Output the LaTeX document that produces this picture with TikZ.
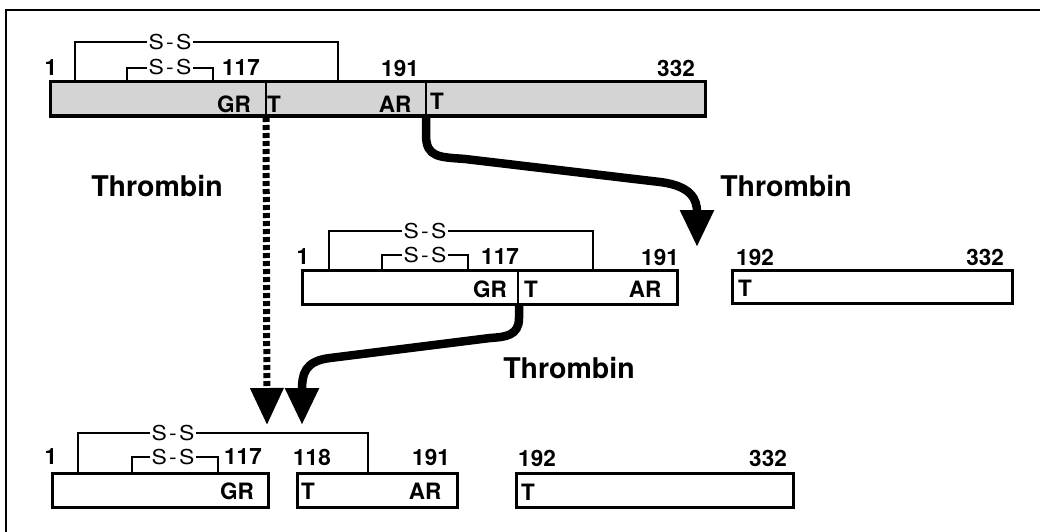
\documentclass[tikz,border=0pt]{standalone}
\usepackage{fontspec}
\setmainfont{TeX Gyre Heros}
\usetikzlibrary{arrows.meta}
\definecolor{barfill}{RGB}{212,212,212}
\newcommand\sSlabel{\scalebox{1.12}[1]{S\kern2pt-\kern2pt S}}
\tikzset{
  bar/.style={draw, line width=3pt, minimum height=34pt, inner sep=0pt, outer sep=0pt, anchor=north west},
  num/.style={font=\fontsize{22.5}{22.5}\selectfont\bfseries, inner sep=0pt},
  ss/.style={font=\fontsize{20.5}{20.5}\selectfont, fill=white, inner sep=1.2pt},
  bond/.style={line width=1.6pt},
  thr/.style={font=\fontsize{28.5}{28.5}\selectfont\bfseries, inner sep=0pt},
  bigarrow/.style={line width=8.5pt, -{Triangle[width=32pt,length=37pt]}},
  dasharrow/.style={line width=7pt, dash pattern=on 5pt off 3pt, -{Triangle[width=32pt,length=37pt]}},
}
\begin{document}
\begin{tikzpicture}[x=1pt,y=-1pt]
\useasboundingbox (0,0) rectangle (1040,532);
% frame
\draw[line width=2pt] (1040,10) -- (6,10) -- (6,532);

% ---------- top row ----------
\draw[bond] (75,82) |- (338,42) -- (338,82);
\draw[bond] (127,82) |- (213,68) -- (213,82);
\node[bar, fill=barfill, minimum width=655pt] (topbar) at (50,82) {};
\draw[line width=2.4pt] (266,82) -- (266,116);
\draw[line width=2.4pt] (426,82) -- (426,116);
\node[ss] (ss1) at (170,42) {\sSlabel};
\node[ss] (ss2) at (170,67) {\sSlabel};
\node[num] (t1) at (51,68) {1};
\node[num] (t117) at (241,68) {117};
\node[num] (t191) at (400,68) {191};
\node[num] (t332) at (676,68) {332};
\node[num] (tGR) at (234,104) {GR};
\node[num] (tT1) at (274,104) {T};
\node[num] (tAR) at (395,104) {AR};
\node[num] (tT2) at (437,101) {T};

% ---------- middle row ----------
\draw[bond] (329,270) |- (593,231) -- (593,270);
\draw[bond] (382,270) |- (468,255) -- (468,270);
\node[bar, minimum width=375pt] (midbar) at (302,270) {};
\draw[line width=2.4pt] (518,270) -- (518,304);
\node[ss] (ss3) at (425,231) {\sSlabel};
\node[ss] (ss4) at (425,255) {\sSlabel};
\node[num] (m1) at (303,257) {1};
\node[num] (m117) at (500,257) {117};
\node[num] (m191) at (660,257) {191};
\node[num] (mGR) at (490,289) {GR};
\node[num] (mT) at (531,289) {T};
\node[num] (mAR) at (645,289) {AR};

\node[bar, minimum width=280pt, minimum height=33pt] (midright) at (732,270) {};
\node[num] (m192) at (755,257) {192};
\node[num] (m332) at (985,257) {332};
\node[num] (mT2) at (745,288) {T};

% ---------- bottom row ----------
\draw[bond] (78,473) |- (368,433) -- (368,473);
\draw[bond] (132,473) |- (218,457) -- (218,473);
\node[bar, minimum width=216pt] (botA) at (52,473) {};
\node[bar, minimum width=160pt] (botB) at (297,473) {};
\node[bar, minimum width=277pt] (botC) at (516,473) {};
\node[ss] (ss5) at (173,433) {\sSlabel};
\node[ss] (ss6) at (173,457) {\sSlabel};
\node[num] (b1) at (51,457) {1};
\node[num] (b117) at (243,457) {117};
\node[num] (b118) at (312,457) {118};
\node[num] (b191) at (431,457) {191};
\node[num] (bGR) at (237,491) {GR};
\node[num] (bT) at (308,491) {T};
\node[num] (bAR) at (425,491) {AR};
\node[num] (b192) at (537,458) {192};
\node[num] (b332) at (768,458) {332};
\node[num] (bT2) at (528,492) {T};

% ---------- thrombin labels ----------
\node[thr] (thrA) at (157,186) {Thrombin};
\node[thr] (thrB) at (786,186) {Thrombin};
\node[thr] (thrC) at (569,368) {Thrombin};

% ---------- arrows ----------
\coordinate (d1s) at (266,117);
\coordinate (d1e) at (267,425);
\draw[dasharrow] (d1s) -- (d1e);

\coordinate (a1s) at (426,117);
\coordinate (a1e) at (697,247);
\draw[bigarrow] (a1s) -- (426,135) .. controls (426,158) and (440,157) .. (465,159)
  -- (660,182) .. controls (692,186) and (697,200) .. (a1e);

\coordinate (a2s) at (519,305);
\coordinate (a2e) at (302,425);
\draw[bigarrow] (a2s) -- (519,318) .. controls (519,336) and (505,337) .. (490,338)
  -- (330,358) .. controls (304,361) and (302,375) .. (a2e);
\end{tikzpicture}
\end{document}
